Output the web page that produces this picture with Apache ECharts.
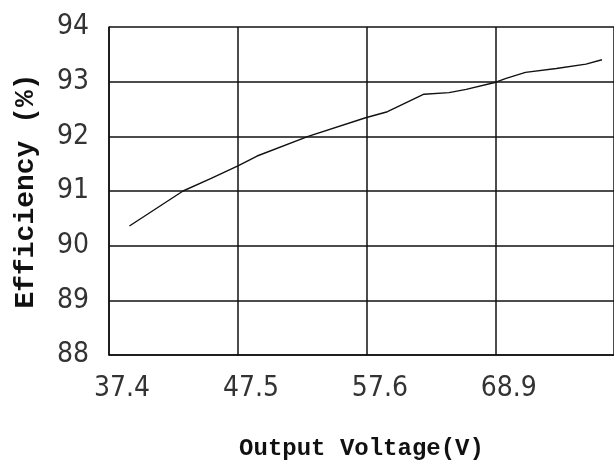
<!DOCTYPE html>
<html>
<head>
<meta charset="utf-8">
<script src="https://cdn.jsdelivr.net/npm/echarts@6/dist/echarts.min.js"></script>
<style>
  html, body { margin: 0; padding: 0; background: #fff; }
  #chart { width: 614px; height: 466px; }
</style>
</head>
<body>
<div id="chart"></div>
<script>
// Tick labels of the output-voltage axis (evenly spaced grid columns)
const voltageTicks = [37.4, 47.5, 57.6, 68.9];
// Efficiency axis range and step
const effMin = 88, effMax = 94, effStep = 1;
// Measured curve: output voltage (V) and efficiency (%)
const voltage = [39.0, 43.2, 45.4, 47.5, 49.0, 53.0, 57.5, 59.4, 62.6, 64.8, 66.3, 68.9, 69.8, 71.5, 74.2, 76.8, 78.2];
const efficiency = [90.36, 91.0, 91.23, 91.46, 91.64, 92.0, 92.34, 92.45, 92.77, 92.80, 92.86, 92.99, 93.06, 93.17, 93.24, 93.32, 93.40];

// The voltage axis is laid out in equal columns, one per tick label;
// map a voltage onto that column scale piecewise-linearly.
function toColumn(v) {
  const t = voltageTicks;
  let i = 0;
  if (v >= t[t.length - 1]) i = t.length - 2;
  else { while (i < t.length - 2 && v > t[i + 1]) i++; }
  return i + (v - t[i]) / (t[i + 1] - t[i]);
}

const points = voltage.map((v, k) => [toColumn(v), efficiency[k]]);

const gridLeft = 109, gridRight = -1;
const colWidth = 129.2;
const xMax = (614 - gridLeft - gridRight) / colWidth;

const labelFont = "'Liberation Sans Narrow', 'DejaVu Sans Condensed', sans-serif";
const nameFont = "'Liberation Mono', 'DejaVu Sans Mono', monospace";

const chart = echarts.init(document.getElementById('chart'), null, { renderer: 'canvas' });
chart.setOption({
  animation: false,
  backgroundColor: '#ffffff',
  grid: { left: gridLeft, right: gridRight, top: 27, bottom: 109 },
  xAxis: {
    type: 'value',
    min: 0,
    max: xMax,
    interval: 1,
    name: 'Output Voltage(V)',
    nameLocation: 'middle',
    nameGap: 82,
    nameTextStyle: { fontFamily: nameFont, fontWeight: 'bold', fontSize: 24, color: '#111' },
    axisLine: { show: true, lineStyle: { color: '#111', width: 1.5 } },
    axisTick: { show: false },
    splitLine: { show: true, lineStyle: { color: '#111', width: 1.5 } },
    axisLabel: {
      showMaxLabel: false,
      margin: 20,
      padding: [0, 0, 0, 26],
      fontFamily: labelFont,
      fontSize: 28,
      color: '#333',
      formatter: function (val) {
        const i = Math.round(val);
        return Math.abs(val - i) < 1e-6 && i < voltageTicks.length ? voltageTicks[i].toFixed(1) : '';
      }
    }
  },
  yAxis: {
    type: 'value',
    min: effMin,
    max: effMax,
    interval: effStep,
    name: 'Efficiency (%)',
    nameLocation: 'middle',
    nameGap: 69,
    nameTextStyle: { fontFamily: nameFont, fontWeight: 'bold', fontSize: 28, color: '#111' },
    axisLine: { show: true, lineStyle: { color: '#111', width: 1.5 } },
    axisTick: { show: false },
    splitLine: { show: true, lineStyle: { color: '#111', width: 1.5 } },
    axisLabel: {
      margin: 20,
      fontFamily: labelFont,
      fontSize: 28,
      color: '#333'
    }
  },
  series: [{
    type: 'line',
    data: points,
    showSymbol: false,
    smooth: false,
    lineStyle: { color: '#111', width: 1.4 }
  }]
});
</script>
</body>
</html>
